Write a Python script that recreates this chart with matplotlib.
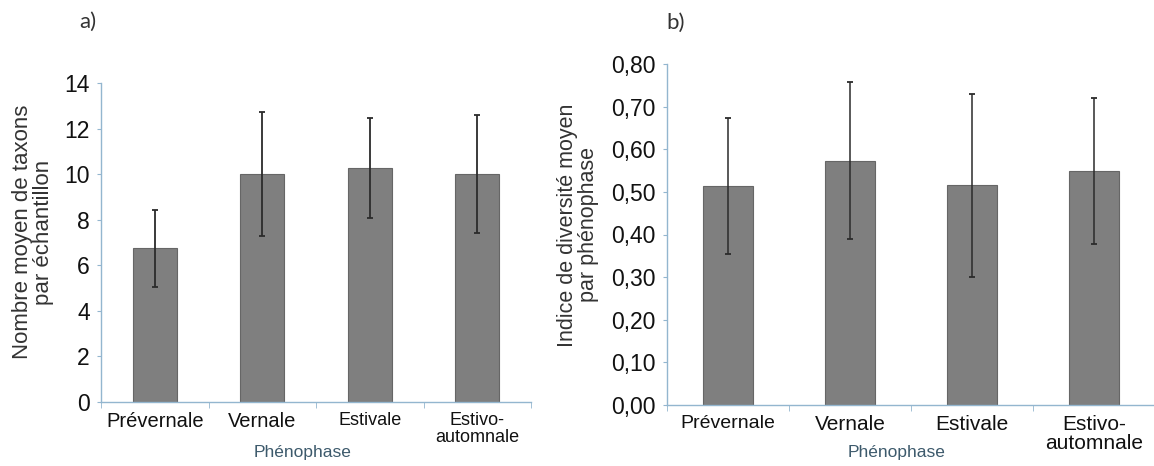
import numpy as np
import matplotlib
matplotlib.use("Agg")
import matplotlib.pyplot as plt

plt.rcParams['font.family'] = ['Liberation Sans', 'DejaVu Sans']

phases = ['Prévernale', 'Vernale', 'Estivale', 'Estivo-\nautomnale']

# a) mean number of taxa per sample
taxa_mean = [6.74, 10.0, 10.28, 10.0]
taxa_err = [1.68, 2.72, 2.2, 2.6]

# b) mean diversity index per phenophase
div_mean = [0.514, 0.573, 0.515, 0.549]
div_err = [0.16, 0.184, 0.214, 0.171]

axis_col = '#93b6cf'
bar_col = '#7f7f7f'
err_col = '#2b2b2b'
txt_col = '#111111'

W, H = 1154, 466
fig = plt.figure(figsize=(W / 100, H / 100), dpi=100)


def style_axes(ax, n, tick_sizes):
    for s in ['top', 'right']:
        ax.spines[s].set_visible(False)
    for s in ['left', 'bottom']:
        ax.spines[s].set_color(axis_col)
        ax.spines[s].set_linewidth(1.0)
    ax.set_xlim(-0.5, n - 0.5)
    ax.set_xticks(np.arange(n))
    ax.set_xticklabels(phases, color=txt_col, linespacing=1.05)
    for lab, fs in zip(ax.get_xticklabels(), tick_sizes):
        lab.set_fontsize(fs)
    ax.set_xticks(np.arange(n + 1) - 0.5, minor=True)
    ax.tick_params(axis='x', which='major', length=0, pad=7)
    ax.tick_params(axis='x', which='minor', length=4, color=axis_col, direction='out')
    ax.tick_params(axis='y', length=3, color=axis_col, direction='out',
                   labelsize=16.5, labelcolor=txt_col, pad=5)


# ---- a)
ax1 = fig.add_axes([101 / W, (H - 402) / H, 430 / W, 319 / H])
x = np.arange(len(phases))
ax1.bar(x, taxa_mean, width=0.41, color=bar_col, edgecolor='#666666', linewidth=0.8,
        yerr=taxa_err, error_kw=dict(ecolor=err_col, elinewidth=1.3, capsize=2, capthick=1.3))
ax1.set_ylim(0, 14)
ax1.set_yticks(np.arange(0, 15, 2))
style_axes(ax1, len(phases), [14.5, 14.5, 13, 13])

fig.text(33 / W, 1 - 232 / H, 'Nombre moyen de taxons\npar échantillon', rotation=90,
         ha='center', va='center', multialignment='center', fontsize=16,
         color='#333333', linespacing=1.05)
fig.text(303 / W, 1 - 452 / H, 'Phénophase', ha='center', va='center',
         fontsize=12.5, color='#3d5a6c')
fig.text(88 / W, 1 - 22 / H, 'a)', ha='center', va='center', fontsize=16,
         color='#333333', family=['Lato', 'DejaVu Sans'])

# ---- b)
ax2 = fig.add_axes([667 / W, (H - 405) / H, 488 / W, 341 / H])
ax2.bar(x, div_mean, width=0.41, color=bar_col, edgecolor='#666666', linewidth=0.8,
        yerr=div_err, error_kw=dict(ecolor=err_col, elinewidth=1.1, capsize=2, capthick=1.3))
ax2.set_ylim(0, 0.8)
ax2.set_yticks(np.arange(0, 0.81, 0.1))
ax2.set_yticklabels(['{:.2f}'.format(v).replace('.', ',') for v in np.arange(0, 0.81, 0.1)])
style_axes(ax2, len(phases), [14, 15, 15, 15])

fig.text(578 / W, 1 - 225 / H, 'Indice de diversité moyen\npar phénophase', rotation=90,
         ha='center', va='center', multialignment='center', fontsize=15.5,
         color='#333333', linespacing=1.05)
fig.text(897 / W, 1 - 453 / H, 'Phénophase', ha='center', va='center',
         fontsize=12.5, color='#3d5a6c')
fig.text(676 / W, 1 - 23 / H, 'b)', ha='center', va='center', fontsize=16,
         color='#333333', family=['Lato', 'DejaVu Sans'])

fig.savefig('out.png', dpi=100)
